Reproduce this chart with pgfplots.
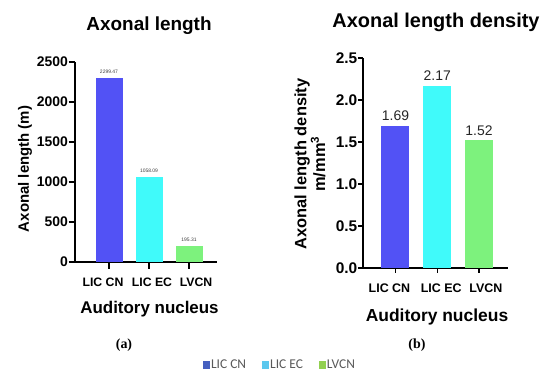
\documentclass[border=0pt]{standalone}
\usepackage{pgfplots}
\pgfplotsset{compat=1.18}
\usepackage{fontspec}
\setmainfont{Liberation Sans}
\newfontfamily\serifb{Liberation Serif}
\newfontfamily\calib{Carlito}
\definecolor{b1}{HTML}{5252F5}
\definecolor{b2}{HTML}{40FAFA}
\definecolor{b3}{HTML}{7DF27D}
\definecolor{l1}{HTML}{4660C0}
\definecolor{l2}{HTML}{5CC8EE}
\definecolor{l3}{HTML}{92D050}
\begin{document}
\begin{tikzpicture}
\path[use as bounding box] (0,0) rectangle (550bp,379bp);
% ---------------- left axis
\begin{axis}[
  at={(75bp,117bp)}, anchor=south west,
  scale only axis, width=142bp, height=200bp,
  xmin=-0.85, xmax=2.7, ymin=0, ymax=2500,
  axis x line*=bottom, axis y line*=left,
  axis line style={line width=1.3bp, -},
  every tick/.style={line width=1.3bp, black},
  xtick={0,1,2},
  xticklabels={\hspace*{-12bp}LIC CN, LIC EC\hspace*{-6bp}, LVCN\hspace*{-14bp}},
  ytick={0,500,1000,1500,2000,2500},
  tick align=outside,
  major tick length=6.5bp,
  /pgf/number format/assume math mode=true,
  /pgf/number format/1000 sep={},
  yticklabel style={font=\bfseries\fontsize{14}{16}\selectfont, inner xsep=0.5bp},
  xticklabel style={font=\bfseries\fontsize{12.3}{14}\selectfont, yshift=-6bp},
  nodes near coords,
  every node near coord/.append style={font=\fontsize{5}{6}\selectfont, text=black!75, yshift=1bp},
  nodes near coords={\pgfmathprintnumber[fixed,precision=2,zerofill]{\pgfplotspointmeta}},
  legend style={at={(axis description cs:1.444,-0.515)}, anchor=center, draw=none,
    font=\calib\fontsize{13.5}{14}\selectfont, text=black!65, legend columns=3,
    /tikz/every even column/.append style={column sep=14bp},
    /tikz/every odd column/.append style={column sep=-1bp}},
  legend image code/.code={\fill[#1] (0bp,-3.5bp) rectangle (7bp,3.5bp);},
]
\addplot[ybar, bar width=27bp, fill=b1, draw=none, forget plot] coordinates {(0,2299.47)};
\addplot[ybar, bar width=27bp, fill=b2, draw=none, forget plot] coordinates {(1,1058.09)};
\addplot[ybar, bar width=27bp, fill=b3, draw=none, forget plot] coordinates {(2,195.31)};
\addlegendimage{fill=l1, draw=none}\addlegendentry{LIC CN}
\addlegendimage{fill=l2, draw=none}\addlegendentry{LIC EC}
\addlegendimage{fill=l3, draw=none}\addlegendentry{LVCN}
\end{axis}
% ---------------- right axis
\begin{axis}[
  at={(363bp,111bp)}, anchor=south west,
  scale only axis, width=145bp, height=210bp,
  xmin=-0.778, xmax=2.695, ymin=0, ymax=2.5,
  axis x line*=bottom, axis y line*=left,
  axis line style={line width=1.3bp, -},
  every tick/.style={line width=1.3bp, black},
  xtick={0,1,2},
  xticklabels={\hspace*{-12bp}LIC CN, LIC EC\hspace*{-8bp}, LVCN\hspace*{-14bp}},
  ytick={0,0.5,1,1.5,2,2.5},
  tick align=outside,
  major tick length=5bp,
  /pgf/number format/assume math mode=true,
  yticklabel style={font=\bfseries\fontsize{15.5}{17}\selectfont, inner xsep=0.5bp,
    /pgf/number format/.cd, fixed, fixed zerofill, precision=1},
  xticklabel style={font=\bfseries\fontsize{12.5}{14}\selectfont, yshift=-7bp},
  nodes near coords,
  every node near coord/.append style={font=\fontsize{14}{16}\selectfont, text=black!85, yshift=1.5bp},
  nodes near coords={\pgfmathprintnumber[fixed,precision=2,zerofill]{\pgfplotspointmeta}},
]
\addplot[ybar, bar width=28bp, fill=b1, draw=none] coordinates {(0,1.69)};
\addplot[ybar, bar width=28bp, fill=b2, draw=none] coordinates {(1,2.17)};
\addplot[ybar, bar width=28bp, fill=b3, draw=none] coordinates {(2,1.52)};
\end{axis}
% ---------------- texts
\node[font=\bfseries\fontsize{19}{21}\selectfont] at (149bp,353bp) {Axonal length};
\node[font=\bfseries\fontsize{20}{22}\selectfont] at (436bp,357bp) {Axonal length density};
\node[font=\bfseries\fontsize{15}{18}\selectfont, rotate=90] at (25bp,210bp) {Axonal length (m)};
\node[font=\bfseries\fontsize{16.5}{14.5}\selectfont, rotate=90, align=center] at (310bp,215bp) {Axonal length density\\m/mm\textsuperscript{3}};
\node[font=\bfseries\fontsize{17}{19}\selectfont] at (149.5bp,70bp) {Auditory nucleus};
\node[font=\bfseries\fontsize{17.5}{19}\selectfont] at (437bp,62bp) {Auditory nucleus};
\node[font=\serifb\bfseries\fontsize{14}{16}\selectfont] at (124bp,34bp) {(a)};
\node[font=\serifb\bfseries\fontsize{14}{16}\selectfont] at (417bp,34bp) {(b)};
\end{tikzpicture}
\end{document}
